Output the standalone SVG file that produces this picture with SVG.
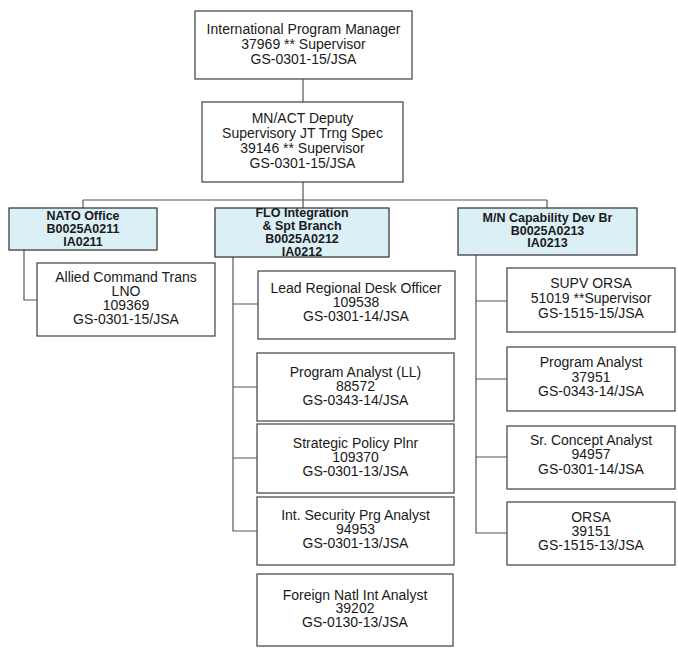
<svg xmlns="http://www.w3.org/2000/svg" width="678" height="649" viewBox="0 0 678 649">
<style>
.bg{fill:#ffffff}
.box{fill:#ffffff;stroke:#4d4d4d;stroke-width:1.3}
.hdr{fill:#dbeff6;stroke:#3d3d3d;stroke-width:1.3}
.t{font-family:"Liberation Sans",Arial,sans-serif;font-size:14px;fill:#1a1a1a;text-anchor:middle}
.h{font-family:"Liberation Sans",Arial,sans-serif;font-size:12.5px;font-weight:bold;fill:#1a1a1a;text-anchor:middle}
.ln{fill:none;stroke:#555555;stroke-width:1.2}
</style>
<rect class="bg" x="0" y="0" width="678" height="649"/>
<g id="connectors">
<path class="ln" d="M303,79 V102"/>
<path class="ln" d="M303,182 V208"/>
<path class="ln" d="M83,200 H547"/>
<path class="ln" d="M83,200 V208"/>
<path class="ln" d="M547,200 V208"/>
<path class="ln" d="M24,250 V300 H37"/>
<path class="ln" d="M233,257 V531 H257 M233,304 H258 M233,387 H257 M233,458 H257"/>
<path class="ln" d="M476,255 V533 H507 M476,301 H507 M476,379 H507 M476,457 H507"/>
</g>
<g id="n-ipm">
<rect class="box" x="195" y="11" width="217" height="68"/>
<text class="t" x="303.5" y="34">International Program Manager</text>
<text class="t" x="303.5" y="49">37969 ** Supervisor</text>
<text class="t" x="303.5" y="64">GS-0301-15/JSA</text>
</g>
<g id="n-deputy">
<rect class="box" x="202" y="102" width="201" height="80"/>
<text class="t" x="302.5" y="123">MN/ACT Deputy</text>
<text class="t" x="302.5" y="138">Supervisory JT Trng Spec</text>
<text class="t" x="302.5" y="153">39146 ** Supervisor</text>
<text class="t" x="302.5" y="168">GS-0301-15/JSA</text>
</g>
<g id="n-nato">
<rect class="hdr" x="9" y="208" width="148" height="42"/>
<text class="h" x="83" y="220">NATO Office</text>
<text class="h" x="83" y="233">B0025A0211</text>
<text class="h" x="83" y="246">IA0211</text>
</g>
<g id="n-flo">
<rect class="hdr" x="215" y="208" width="174" height="49"/>
<text class="h" x="302" y="217">FLO Integration</text>
<text class="h" x="302" y="230">&amp; Spt Branch</text>
<text class="h" x="302" y="243">B0025A0212</text>
<text class="h" x="302" y="255.5">IA0212</text>
</g>
<g id="n-mn">
<rect class="hdr" x="458" y="208" width="179" height="47"/>
<text class="h" x="547.5" y="222">M/N Capability Dev Br</text>
<text class="h" x="547.5" y="234.5">B0025A0213</text>
<text class="h" x="547.5" y="247">IA0213</text>
</g>
<g id="n-allied">
<rect class="box" x="37" y="263" width="178" height="73"/>
<text class="t" x="126" y="282">Allied Command Trans</text>
<text class="t" x="126" y="296">LNO</text>
<text class="t" x="126" y="310">109369</text>
<text class="t" x="126" y="324">GS-0301-15/JSA</text>
</g>
<g id="n-lead">
<rect class="box" x="258" y="271" width="197" height="68"/>
<text class="t" x="356" y="293">Lead Regional Desk Officer</text>
<text class="t" x="356" y="307">109538</text>
<text class="t" x="356" y="321">GS-0301-14/JSA</text>
</g>
<g id="n-pall">
<rect class="box" x="257" y="353" width="197" height="68"/>
<text class="t" x="355.5" y="377">Program Analyst (LL)</text>
<text class="t" x="355.5" y="391">88572</text>
<text class="t" x="355.5" y="405">GS-0343-14/JSA</text>
</g>
<g id="n-strat">
<rect class="box" x="257" y="424" width="197" height="69"/>
<text class="t" x="355.5" y="448">Strategic Policy Plnr</text>
<text class="t" x="355.5" y="462">109370</text>
<text class="t" x="355.5" y="476">GS-0301-13/JSA</text>
</g>
<g id="n-intsec">
<rect class="box" x="257" y="497" width="197" height="68"/>
<text class="t" x="355.5" y="520">Int.  Security Prg Analyst</text>
<text class="t" x="355.5" y="534">94953</text>
<text class="t" x="355.5" y="548">GS-0301-13/JSA</text>
</g>
<g id="n-foreign">
<rect class="box" x="257" y="574" width="196" height="72"/>
<text class="t" x="355" y="600">Foreign Natl Int Analyst</text>
<text class="t" x="355" y="613">39202</text>
<text class="t" x="355" y="627">GS-0130-13/JSA</text>
</g>
<g id="n-supv">
<rect class="box" x="507" y="268" width="168" height="64"/>
<text class="t" x="591" y="288">SUPV ORSA</text>
<text class="t" x="591" y="303">51019 **Supervisor</text>
<text class="t" x="591" y="318">GS-1515-15/JSA</text>
</g>
<g id="n-pa">
<rect class="box" x="507" y="347" width="168" height="64"/>
<text class="t" x="591" y="367">Program Analyst</text>
<text class="t" x="591" y="382">37951</text>
<text class="t" x="591" y="396">GS-0343-14/JSA</text>
</g>
<g id="n-sr">
<rect class="box" x="507" y="426" width="168" height="63"/>
<text class="t" x="591" y="445">Sr. Concept Analyst</text>
<text class="t" x="591" y="459">94957</text>
<text class="t" x="591" y="474">GS-0301-14/JSA</text>
</g>
<g id="n-orsa">
<rect class="box" x="507" y="502" width="168" height="63"/>
<text class="t" x="591" y="522">ORSA</text>
<text class="t" x="591" y="536">39151</text>
<text class="t" x="591" y="550">GS-1515-13/JSA</text>
</g>
</svg>
